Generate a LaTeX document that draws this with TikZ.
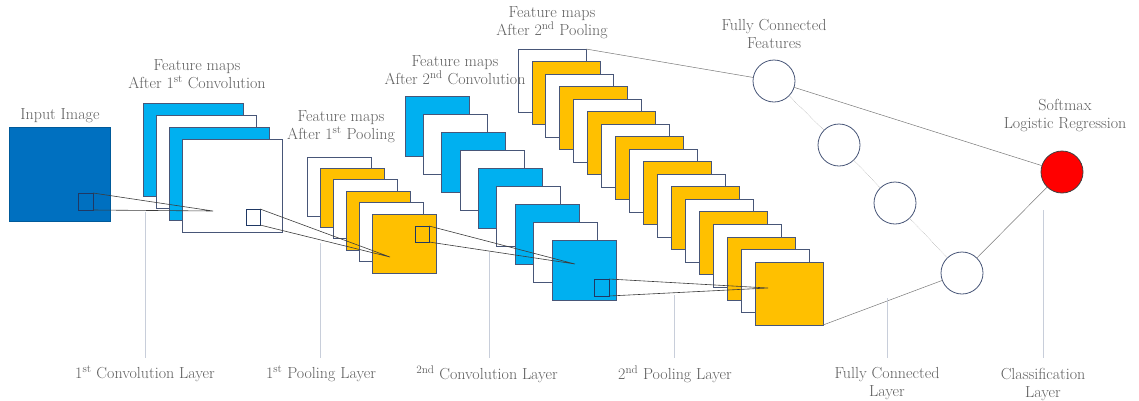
\documentclass[tikz,border=0pt]{standalone}
\usepackage{fontspec}
\definecolor{cdark}{RGB}{0,112,192}
\definecolor{clight}{RGB}{0,176,240}
\definecolor{cyel}{RGB}{255,192,0}
\definecolor{cedge}{RGB}{72,86,120}
\definecolor{cnavy}{RGB}{31,56,100}
\definecolor{ctxt}{RGB}{95,95,95}
\definecolor{clead}{RGB}{200,206,218}
\definecolor{cline}{RGB}{60,60,60}
\definecolor{cfc}{RGB}{120,120,120}
\begin{document}
\begin{tikzpicture}[x=1pt,y=-1pt,
  fmap/.style={draw=cedge, line width=0.8pt, inner sep=0pt, outer sep=0pt, anchor=north west},
  smallsq/.style={draw=cnavy, line width=1pt, inner sep=0pt, outer sep=0pt, anchor=north west},
  fcnode/.style={circle, draw=cedge, line width=0.8pt, fill=white, minimum size=42pt, inner sep=0pt, outer sep=0pt},
  zoomline/.style={draw=cline, line width=0.6pt},
  fcline/.style={draw=cfc, line width=0.5pt},
  chainline/.style={draw=cfc!70, line width=0.5pt, densely dotted},
  leader/.style={draw=clead, line width=0.6pt},
  lbl/.style={text=ctxt, align=center, font=\fontsize{16}{18}\selectfont\addfontfeatures{LetterSpace=3.5}, inner sep=1pt}]
\useasboundingbox (0,0) rectangle (1139,400);

% Input image
\node[fmap, fill=cdark, draw=cdark!80!black, minimum width=101pt, minimum height=94pt] (inp) at (9,127) {};
\node[smallsq, minimum width=15pt, minimum height=17pt] (s0) at (78,193) {};

% 1st convolution maps
\foreach \i in {0,...,3}{
  \ifodd\i\def\col{white}\else\def\col{clight}\fi
  \node[fmap, fill=\col, minimum width=100pt, minimum height=93pt] (k\i) at ({143+13*\i},{103+12*\i}) {};
}
\node[smallsq, minimum width=14pt, minimum height=16pt] (s1) at (246,209) {};

% 1st pooling maps
\foreach \i in {0,...,5}{
  \ifodd\i\def\col{cyel}\else\def\col{white}\fi
  \node[fmap, fill=\col, minimum width=64pt, minimum height=59pt] (p\i) at ({307+13*\i},{157+11.4*\i}) {};
}
\node[smallsq, minimum width=14pt, minimum height=16pt] (s2) at (415,226) {};

% 2nd convolution maps
\foreach \i in {0,...,8}{
  \ifodd\i\def\col{white}\else\def\col{clight}\fi
  \node[fmap, fill=\col, minimum width=64pt, minimum height=60pt] (c\i) at ({405+18.375*\i},{96+18.1*\i}) {};
}
\node[smallsq, minimum width=15pt, minimum height=17pt] (s3) at (594,279) {};

% 2nd pooling maps
\foreach \i in {0,...,17}{
  \ifodd\i\def\col{cyel}\else\def\col{white}\fi
  \node[fmap, fill=\col, minimum width=68pt, minimum height=63pt] (q\i) at ({518+13.94*\i},{49+12.53*\i}) {};
}

% fully connected + softmax
\node[fcnode] (f1) at (774,81) {};
\node[fcnode] (f2) at (839,145) {};
\node[fcnode] (f3) at (895,203) {};
\node[fcnode] (f4) at (962,273) {};
\node[fcnode, fill=red, draw=black!75] (sm) at (1062,172) {};

% zoom connectors
\coordinate (a1) at (213,211);
\coordinate (a2) at (390,257);
\coordinate (a3) at (575,264);
\coordinate (a4) at (768,288);
\draw[zoomline] (s0.north east) -- (a1) -- (s0.south east);
\draw[zoomline] (s1.north east) -- (a2) -- (s1.south east);
\draw[zoomline] (s2.north east) -- (a3) -- (s2.south east);
\draw[zoomline] (s3.north east) -- (a4) -- (s3.south east);

% fully connected lines
\draw[fcline] (q0.north east) -- (f1);
\draw[fcline] (q17.south east) -- (f4);
\draw[fcline] (f1) -- (sm);
\draw[chainline] (f1) -- (f2);
\draw[chainline] (f2) -- (f3);
\draw[chainline] (f3) -- (f4);
\draw[fcline] (f4) -- (sm);

% top labels
\node[lbl] (tin) at (60,116) {Input Image};
\node[lbl] (tc1) at (197,74) {Feature maps\\After 1\textsuperscript{st} Convolution};
\node[lbl] (tp1) at (341,127) {Feature maps\\After 1\textsuperscript{st} Pooling};
\node[lbl] (tc2) at (455,70) {Feature maps\\After 2\textsuperscript{nd} Convolution};
\node[lbl] (tp2) at (552,23) {Feature maps\\After 2\textsuperscript{nd} Pooling};
\node[lbl] (tfc) at (774,34) {Fully Connected\\Features};
\node[lbl] (tsm) at (1065,116) {Softmax\\Logistic Regression};

% bottom labels
\node[lbl] (b1) at (145,374) {1\textsuperscript{st} Convolution Layer};
\node[lbl] (b2) at (321,374) {1\textsuperscript{st} Pooling Layer};
\node[lbl] (b3) at (487,374) {\textsuperscript{2nd} Convolution Layer};
\node[lbl] (b4) at (675,374) {2\textsuperscript{nd} Pooling Layer};
\node[lbl] (b5) at (887,384) {Fully Connected\\Layer};
\node[lbl] (b6) at (1043,384) {Classification\\Layer};

% leaders
\coordinate (t1) at (145,212); \coordinate (e1) at (145,358);
\coordinate (t2) at (320,243); \coordinate (e2) at (320,358);
\coordinate (t3) at (489,252); \coordinate (e3) at (489,358);
\coordinate (t4) at (674,295); \coordinate (e4) at (674,358);
\coordinate (t5) at (887,298); \coordinate (e5) at (887,358);
\coordinate (t6) at (1043,210); \coordinate (e6) at (1043,358);
\foreach \k in {1,...,6}{\draw[leader] (t\k) -- (e\k);}
\end{tikzpicture}
\end{document}
